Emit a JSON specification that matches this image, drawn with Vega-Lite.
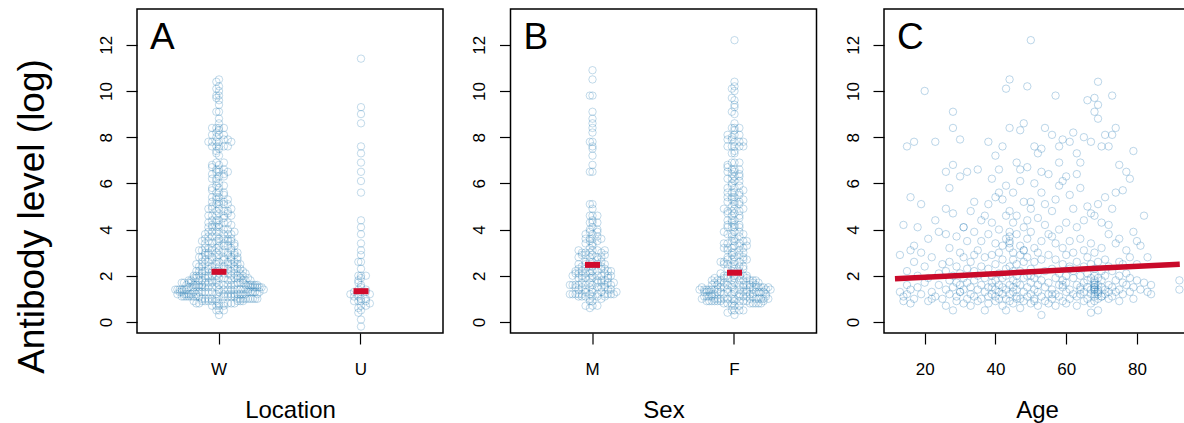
{
"$schema":"https://vega.github.io/schema/vega-lite/v6.json",
"padding":{"left":12,"top":8,"right":0,"bottom":0},
"autosize":{"type":"pad"},
"bounds":"flush",
"spacing":67.5,
"config":{
 "font":"Liberation Sans",
 "view":{"stroke":"black","strokeWidth":1.5},
 "axis":{"domain":false,"grid":false,"tickColor":"black","tickWidth":1.2,"tickSize":11,"labelFont":"Liberation Sans","labelFontSize":17,"labelColor":"black","titleFont":"Liberation Sans","titleFontSize":24,"titleFontWeight":"normal","titleColor":"black"},
 "axisY":{"labelAngle":270,"labelAlign":"center","labelBaseline":"alphabetic","labelPadding":15},
 "axisX":{"labelAngle":0,"labelAlign":"center","labelBaseline":"top","labelPadding":17,"titleY":84,"titleBaseline":"alphabetic"},
 "title":{"font":"Liberation Sans","fontSize":37,"fontWeight":"normal","color":"black","anchor":"start","frame":"group","baseline":"top","offset":-11,"dx":13,"dy":37}
},
"datasets":{
"obs":[
{"loc":"W","sex":"F","age":13,"ab":1.3},{"loc":"W","sex":"M","age":13,"ab":2.9},{"loc":"W","sex":"M","age":14,"ab":1.1},{"loc":"W","sex":"F","age":14,"ab":4.2},{"loc":"U","sex":"F","age":14,"ab":0.9},
{"loc":"W","sex":"M","age":15,"ab":1.6},{"loc":"W","sex":"F","age":15,"ab":7.6},{"loc":"W","sex":"M","age":15,"ab":2.2},{"loc":"W","sex":"F","age":15,"ab":1.2},{"loc":"W","sex":"M","age":16,"ab":3.1},
{"loc":"W","sex":"M","age":16,"ab":1.4},{"loc":"W","sex":"F","age":16,"ab":5.4},{"loc":"W","sex":"F","age":16,"ab":0.8},{"loc":"W","sex":"M","age":17,"ab":7.8},{"loc":"W","sex":"M","age":17,"ab":2.6},
{"loc":"W","sex":"F","age":17,"ab":1.0},{"loc":"W","sex":"F","age":17,"ab":3.3},{"loc":"W","sex":"M","age":18,"ab":1.5},{"loc":"U","sex":"F","age":18,"ab":2.0},{"loc":"W","sex":"F","age":18,"ab":4.1},
{"loc":"W","sex":"F","age":19,"ab":1.2},{"loc":"W","sex":"M","age":19,"ab":3.0},{"loc":"W","sex":"M","age":19,"ab":5.1},{"loc":"W","sex":"F","age":20,"ab":10.0},{"loc":"W","sex":"F","age":20,"ab":1.7},
{"loc":"W","sex":"M","age":20,"ab":2.4},{"loc":"W","sex":"F","age":21,"ab":0.9},{"loc":"W","sex":"F","age":21,"ab":1.9},{"loc":"W","sex":"F","age":21,"ab":3.6},{"loc":"W","sex":"M","age":22,"ab":1.3},
{"loc":"W","sex":"F","age":22,"ab":2.8},{"loc":"U","sex":"F","age":22,"ab":1.0},{"loc":"W","sex":"F","age":23,"ab":7.8},{"loc":"W","sex":"F","age":23,"ab":1.1},{"loc":"W","sex":"M","age":23,"ab":4.4},
{"loc":"W","sex":"F","age":24,"ab":2.1},{"loc":"W","sex":"F","age":24,"ab":1.6},{"loc":"W","sex":"F","age":24,"ab":3.9},{"loc":"W","sex":"M","age":25,"ab":1.0},{"loc":"W","sex":"F","age":25,"ab":2.5},
{"loc":"W","sex":"F","age":26,"ab":1.4},{"loc":"W","sex":"M","age":26,"ab":2.2},{"loc":"W","sex":"M","age":26,"ab":0.7},{"loc":"W","sex":"F","age":26,"ab":4.9},{"loc":"W","sex":"F","age":26,"ab":6.5},
{"loc":"U","sex":"F","age":26,"ab":3.8},{"loc":"W","sex":"F","age":27,"ab":1.8},{"loc":"W","sex":"M","age":27,"ab":1.2},{"loc":"W","sex":"F","age":27,"ab":3.2},{"loc":"W","sex":"F","age":27,"ab":5.8},
{"loc":"U","sex":"F","age":27,"ab":2.6},{"loc":"W","sex":"F","age":28,"ab":9.1},{"loc":"W","sex":"M","age":28,"ab":8.4},{"loc":"W","sex":"F","age":28,"ab":1.5},{"loc":"W","sex":"F","age":28,"ab":0.5},
{"loc":"W","sex":"M","age":28,"ab":2.0},{"loc":"W","sex":"F","age":28,"ab":4.7},{"loc":"W","sex":"M","age":28,"ab":6.8},{"loc":"W","sex":"M","age":29,"ab":1.1},{"loc":"W","sex":"M","age":29,"ab":2.4},
{"loc":"W","sex":"F","age":29,"ab":3.7},{"loc":"W","sex":"M","age":29,"ab":1.7},{"loc":"U","sex":"M","age":29,"ab":0.9},{"loc":"W","sex":"F","age":30,"ab":7.9},{"loc":"W","sex":"F","age":30,"ab":6.3},
{"loc":"W","sex":"F","age":30,"ab":1.3},{"loc":"W","sex":"M","age":30,"ab":2.1},{"loc":"W","sex":"F","age":30,"ab":3.0},{"loc":"W","sex":"F","age":30,"ab":1.6},{"loc":"U","sex":"F","age":30,"ab":1.3},
{"loc":"W","sex":"F","age":31,"ab":0.8},{"loc":"W","sex":"M","age":31,"ab":2.8},{"loc":"W","sex":"F","age":31,"ab":4.1},{"loc":"W","sex":"M","age":31,"ab":1.9},{"loc":"W","sex":"F","age":31,"ab":1.4},
{"loc":"U","sex":"M","age":31,"ab":4.1},{"loc":"W","sex":"M","age":32,"ab":6.5},{"loc":"W","sex":"F","age":32,"ab":2.3},{"loc":"W","sex":"F","age":32,"ab":1.0},{"loc":"W","sex":"F","age":32,"ab":3.5},
{"loc":"W","sex":"M","age":32,"ab":1.7},{"loc":"W","sex":"M","age":33,"ab":1.2},{"loc":"W","sex":"M","age":33,"ab":2.6},{"loc":"W","sex":"F","age":33,"ab":4.8},{"loc":"U","sex":"F","age":33,"ab":0.7},
{"loc":"W","sex":"M","age":33,"ab":1.5},{"loc":"W","sex":"F","age":34,"ab":3.9},{"loc":"W","sex":"F","age":34,"ab":1.8},{"loc":"W","sex":"M","age":34,"ab":2.2},{"loc":"W","sex":"F","age":34,"ab":5.2},
{"loc":"W","sex":"F","age":34,"ab":1.1},{"loc":"U","sex":"F","age":34,"ab":2.9},{"loc":"W","sex":"F","age":35,"ab":1.4},{"loc":"W","sex":"M","age":35,"ab":3.1},{"loc":"W","sex":"M","age":35,"ab":2.0},
{"loc":"W","sex":"F","age":35,"ab":0.9},{"loc":"W","sex":"F","age":35,"ab":6.6},{"loc":"W","sex":"F","age":36,"ab":3.5},{"loc":"W","sex":"M","age":36,"ab":1.6},{"loc":"W","sex":"F","age":36,"ab":2.4},
{"loc":"W","sex":"F","age":36,"ab":1.0},{"loc":"U","sex":"F","age":36,"ab":4.4},{"loc":"W","sex":"F","age":37,"ab":4.6},{"loc":"W","sex":"M","age":37,"ab":1.3},{"loc":"W","sex":"M","age":37,"ab":2.8},
{"loc":"W","sex":"F","age":37,"ab":0.5},{"loc":"U","sex":"F","age":37,"ab":1.9},
{"loc":"W","sex":"F","age":38,"ab":7.8},{"loc":"W","sex":"M","age":38,"ab":5.1},{"loc":"W","sex":"F","age":38,"ab":1.5},{"loc":"W","sex":"M","age":38,"ab":2.3},{"loc":"W","sex":"M","age":38,"ab":3.8},
{"loc":"W","sex":"M","age":38,"ab":1.1},{"loc":"W","sex":"F","age":38,"ab":0.8},{"loc":"W","sex":"M","age":39,"ab":1.7},{"loc":"W","sex":"F","age":39,"ab":2.9},{"loc":"W","sex":"M","age":39,"ab":4.3},
{"loc":"W","sex":"F","age":39,"ab":1.2},{"loc":"W","sex":"F","age":39,"ab":6.2},{"loc":"U","sex":"F","age":39,"ab":2.0},{"loc":"U","sex":"F","age":39,"ab":1.5},{"loc":"W","sex":"F","age":40,"ab":1.4},
{"loc":"W","sex":"M","age":40,"ab":2.5},{"loc":"W","sex":"M","age":40,"ab":3.4},{"loc":"W","sex":"F","age":40,"ab":0.9},{"loc":"W","sex":"F","age":40,"ab":5.4},{"loc":"W","sex":"F","age":40,"ab":1.8},
{"loc":"W","sex":"M","age":40,"ab":7.2},{"loc":"U","sex":"F","age":40,"ab":1.1},{"loc":"W","sex":"M","age":41,"ab":2.1},{"loc":"W","sex":"F","age":41,"ab":1.6},{"loc":"W","sex":"M","age":41,"ab":4.0},
{"loc":"W","sex":"M","age":41,"ab":1.0},{"loc":"W","sex":"F","age":41,"ab":3.0},{"loc":"W","sex":"F","age":41,"ab":6.6},{"loc":"W","sex":"M","age":41,"ab":1.3},{"loc":"U","sex":"F","age":41,"ab":5.6},
{"loc":"W","sex":"F","age":42,"ab":7.6},{"loc":"W","sex":"F","age":42,"ab":2.7},{"loc":"W","sex":"F","age":42,"ab":1.5},{"loc":"W","sex":"M","age":42,"ab":1.9},{"loc":"W","sex":"F","age":42,"ab":5.3},
{"loc":"W","sex":"F","age":42,"ab":0.7},{"loc":"W","sex":"F","age":42,"ab":3.3},{"loc":"U","sex":"M","age":42,"ab":1.2},{"loc":"W","sex":"F","age":43,"ab":10.1},{"loc":"W","sex":"M","age":43,"ab":2.3},
{"loc":"W","sex":"M","age":43,"ab":1.4},{"loc":"W","sex":"F","age":43,"ab":4.6},{"loc":"W","sex":"M","age":43,"ab":3.6},{"loc":"W","sex":"F","age":43,"ab":1.0},{"loc":"W","sex":"M","age":43,"ab":2.0},
{"loc":"W","sex":"F","age":43,"ab":5.9},{"loc":"U","sex":"F","age":43,"ab":0.5},{"loc":"W","sex":"M","age":44,"ab":10.5},{"loc":"W","sex":"F","age":44,"ab":8.4},{"loc":"W","sex":"F","age":44,"ab":3.4},
{"loc":"W","sex":"F","age":44,"ab":3.7},{"loc":"W","sex":"M","age":44,"ab":3.9},{"loc":"W","sex":"F","age":44,"ab":3.2},{"loc":"W","sex":"M","age":44,"ab":3.5},{"loc":"W","sex":"F","age":44,"ab":1.6},
{"loc":"W","sex":"F","age":44,"ab":2.4},{"loc":"W","sex":"M","age":44,"ab":1.2},{"loc":"W","sex":"F","age":44,"ab":4.8},{"loc":"U","sex":"F","age":44,"ab":0.9},{"loc":"W","sex":"F","age":45,"ab":2.2},
{"loc":"W","sex":"F","age":45,"ab":1.5},{"loc":"W","sex":"M","age":45,"ab":3.0},{"loc":"W","sex":"F","age":45,"ab":5.6},{"loc":"W","sex":"M","age":45,"ab":1.8},{"loc":"W","sex":"F","age":45,"ab":0.8},
{"loc":"W","sex":"F","age":45,"ab":4.3},{"loc":"W","sex":"M","age":45,"ab":2.7},{"loc":"U","sex":"F","age":45,"ab":1.3},{"loc":"W","sex":"F","age":46,"ab":1.7},{"loc":"W","sex":"F","age":46,"ab":6.9},
{"loc":"W","sex":"M","age":46,"ab":2.5},{"loc":"W","sex":"M","age":46,"ab":1.1},{"loc":"W","sex":"F","age":46,"ab":3.8},{"loc":"W","sex":"F","age":46,"ab":2.0},{"loc":"W","sex":"M","age":46,"ab":4.6},
{"loc":"W","sex":"F","age":46,"ab":1.4},{"loc":"U","sex":"F","age":46,"ab":1.0},{"loc":"W","sex":"F","age":47,"ab":8.3},{"loc":"W","sex":"M","age":47,"ab":2.9},{"loc":"W","sex":"F","age":47,"ab":1.6},
{"loc":"W","sex":"M","age":47,"ab":3.3},{"loc":"W","sex":"F","age":47,"ab":1.0},{"loc":"W","sex":"F","age":47,"ab":6.6},{"loc":"W","sex":"M","age":47,"ab":2.2},{"loc":"U","sex":"M","age":47,"ab":0.6},
{"loc":"U","sex":"F","age":47,"ab":6.1},{"loc":"W","sex":"M","age":48,"ab":8.6},{"loc":"W","sex":"F","age":48,"ab":1.9},{"loc":"W","sex":"F","age":48,"ab":4.1},{"loc":"W","sex":"F","age":48,"ab":1.3},
{"loc":"W","sex":"M","age":48,"ab":2.6},{"loc":"W","sex":"F","age":48,"ab":5.2},{"loc":"W","sex":"F","age":48,"ab":0.9},{"loc":"W","sex":"F","age":48,"ab":3.1},{"loc":"U","sex":"F","age":48,"ab":3.1},
{"loc":"W","sex":"F","age":49,"ab":10.2},{"loc":"W","sex":"M","age":49,"ab":2.0},{"loc":"W","sex":"M","age":49,"ab":1.5},{"loc":"W","sex":"M","age":49,"ab":3.6},{"loc":"W","sex":"F","age":49,"ab":6.7},
{"loc":"W","sex":"F","age":49,"ab":1.1},{"loc":"W","sex":"M","age":49,"ab":2.8},{"loc":"W","sex":"F","age":49,"ab":4.4},{"loc":null,"sex":"F","age":50,"ab":12.2},{"loc":"W","sex":"F","age":50,"ab":5.2},
{"loc":"W","sex":"F","age":50,"ab":1.7},{"loc":"W","sex":"M","age":50,"ab":2.3},{"loc":"W","sex":"M","age":50,"ab":3.9},{"loc":"W","sex":"F","age":50,"ab":1.2},{"loc":"W","sex":"F","age":50,"ab":0.8},
{"loc":"W","sex":"M","age":50,"ab":4.9},{"loc":"U","sex":"F","age":50,"ab":2.0},{"loc":"W","sex":"F","age":51,"ab":2.6},{"loc":"W","sex":"F","age":51,"ab":1.4},{"loc":"W","sex":"M","age":51,"ab":7.6},
{"loc":"W","sex":"F","age":51,"ab":3.2},{"loc":"W","sex":"M","age":51,"ab":1.9},{"loc":"W","sex":"F","age":51,"ab":6.0},{"loc":"W","sex":"F","age":51,"ab":1.0},{"loc":"U","sex":"M","age":51,"ab":0.9},
{"loc":"W","sex":"F","age":52,"ab":7.3},{"loc":"W","sex":"M","age":52,"ab":2.1},{"loc":"W","sex":"F","age":52,"ab":1.6},{"loc":"W","sex":"F","age":52,"ab":4.5},{"loc":"W","sex":"F","age":52,"ab":0.7},
{"loc":"W","sex":"M","age":52,"ab":3.0},{"loc":"U","sex":"F","age":52,"ab":1.3},{"loc":"W","sex":"M","age":53,"ab":7.5},{"loc":"W","sex":"M","age":53,"ab":1.8},{"loc":"W","sex":"F","age":53,"ab":2.7},
{"loc":"W","sex":"F","age":53,"ab":5.6},{"loc":"W","sex":"M","age":53,"ab":1.1},{"loc":"W","sex":"F","age":53,"ab":0.3},{"loc":"W","sex":"M","age":53,"ab":3.5},{"loc":"U","sex":"M","age":53,"ab":6.5},
{"loc":"W","sex":"F","age":54,"ab":8.4},{"loc":"W","sex":"F","age":54,"ab":2.2},{"loc":"W","sex":"M","age":54,"ab":1.5},{"loc":"W","sex":"F","age":54,"ab":4.2},{"loc":"W","sex":"F","age":54,"ab":0.9},
{"loc":"W","sex":"F","age":54,"ab":5.1},{"loc":"W","sex":"M","age":55,"ab":1.7},{"loc":"W","sex":"M","age":55,"ab":2.9},{"loc":"W","sex":"F","age":55,"ab":1.2},{"loc":"W","sex":"M","age":55,"ab":3.8},
{"loc":"W","sex":"F","age":55,"ab":6.4},{"loc":"U","sex":"F","age":55,"ab":0.8},
{"loc":"W","sex":"F","age":56,"ab":8.1},{"loc":"W","sex":"M","age":56,"ab":3.7},{"loc":"W","sex":"F","age":56,"ab":1.4},{"loc":"W","sex":"F","age":56,"ab":2.3},{"loc":"W","sex":"F","age":56,"ab":1.0},
{"loc":"W","sex":"F","age":56,"ab":4.8},{"loc":"U","sex":"F","age":56,"ab":1.2},{"loc":"W","sex":"M","age":57,"ab":9.8},{"loc":"W","sex":"F","age":57,"ab":5.3},{"loc":"W","sex":"M","age":57,"ab":1.9},
{"loc":"W","sex":"M","age":57,"ab":1.2},{"loc":"W","sex":"F","age":57,"ab":2.7},{"loc":"W","sex":"M","age":57,"ab":0.7},{"loc":"U","sex":"F","age":57,"ab":3.4},{"loc":"W","sex":"F","age":58,"ab":7.6},
{"loc":"W","sex":"F","age":58,"ab":1.6},{"loc":"W","sex":"M","age":58,"ab":2.1},{"loc":"W","sex":"M","age":58,"ab":4.0},{"loc":"W","sex":"F","age":58,"ab":1.1},{"loc":"W","sex":"F","age":58,"ab":5.9},
{"loc":"U","sex":"F","age":58,"ab":6.9},{"loc":"W","sex":"F","age":59,"ab":7.9},{"loc":"W","sex":"M","age":59,"ab":1.5},{"loc":"W","sex":"F","age":59,"ab":2.5},{"loc":"W","sex":"F","age":59,"ab":6.1},
{"loc":"W","sex":"M","age":59,"ab":1.8},{"loc":"W","sex":"F","age":59,"ab":0.9},{"loc":"W","sex":"M","age":59,"ab":3.2},{"loc":"U","sex":"M","age":59,"ab":1.6},{"loc":"W","sex":"F","age":60,"ab":6.3},
{"loc":"W","sex":"F","age":60,"ab":1.3},{"loc":"W","sex":"F","age":60,"ab":2.0},{"loc":"W","sex":"M","age":60,"ab":4.3},{"loc":"U","sex":"F","age":60,"ab":1.7},{"loc":"W","sex":"M","age":60,"ab":2.9},
{"loc":"W","sex":"F","age":60,"ab":0.8},{"loc":"W","sex":"F","age":61,"ab":7.8},{"loc":"W","sex":"M","age":61,"ab":1.4},{"loc":"W","sex":"M","age":61,"ab":2.4},{"loc":"W","sex":"F","age":61,"ab":5.5},
{"loc":"W","sex":"F","age":61,"ab":1.0},{"loc":"W","sex":"F","age":61,"ab":3.5},{"loc":"U","sex":"M","age":61,"ab":2.3},{"loc":"W","sex":"M","age":62,"ab":8.2},{"loc":"W","sex":"F","age":62,"ab":1.9},
{"loc":"W","sex":"M","age":62,"ab":1.2},{"loc":"W","sex":"M","age":62,"ab":3.0},{"loc":"W","sex":"F","age":62,"ab":4.9},{"loc":"W","sex":"M","age":62,"ab":2.2},{"loc":"W","sex":"F","age":63,"ab":6.4},
{"loc":"W","sex":"M","age":63,"ab":1.6},{"loc":"W","sex":"M","age":63,"ab":2.6},{"loc":"W","sex":"F","age":63,"ab":1.1},{"loc":"W","sex":"F","age":63,"ab":4.1},{"loc":"U","sex":"M","age":63,"ab":0.7},
{"loc":"U","sex":"F","age":63,"ab":7.3},{"loc":"W","sex":"F","age":64,"ab":6.9},{"loc":"W","sex":"F","age":64,"ab":1.5},{"loc":"W","sex":"M","age":64,"ab":3.6},{"loc":"W","sex":"M","age":64,"ab":2.0},
{"loc":"W","sex":"F","age":64,"ab":1.2},{"loc":"W","sex":"F","age":64,"ab":5.8},{"loc":"U","sex":"F","age":64,"ab":1.4},
{"loc":"W","sex":"F","age":65,"ab":8.0},{"loc":"W","sex":"M","age":65,"ab":1.7},{"loc":"W","sex":"M","age":65,"ab":2.4},{"loc":"W","sex":"F","age":65,"ab":1.3},{"loc":"W","sex":"F","age":65,"ab":4.4},
{"loc":"W","sex":"F","age":65,"ab":0.9},{"loc":"W","sex":"M","age":65,"ab":3.1},{"loc":"W","sex":"F","age":66,"ab":9.6},{"loc":"W","sex":"F","age":66,"ab":1.5},{"loc":"W","sex":"M","age":66,"ab":2.1},
{"loc":"W","sex":"F","age":66,"ab":1.0},{"loc":"W","sex":"F","age":66,"ab":5.0},{"loc":"W","sex":"M","age":66,"ab":2.8},{"loc":"U","sex":"F","age":66,"ab":1.8},{"loc":"W","sex":"M","age":67,"ab":7.8},
{"loc":"W","sex":"F","age":67,"ab":1.4},{"loc":"W","sex":"M","age":67,"ab":1.9},{"loc":"W","sex":"M","age":67,"ab":1.2},{"loc":"W","sex":"F","age":67,"ab":3.4},{"loc":"W","sex":"M","age":67,"ab":2.5},
{"loc":"W","sex":"F","age":67,"ab":0.8},{"loc":"W","sex":"F","age":67,"ab":4.7},{"loc":"U","sex":"F","age":67,"ab":0.4},{"loc":"W","sex":"F","age":68,"ab":9.7},{"loc":"W","sex":"M","age":68,"ab":9.1},
{"loc":"W","sex":"F","age":68,"ab":1.3},{"loc":"W","sex":"F","age":68,"ab":1.5},{"loc":"W","sex":"M","age":68,"ab":1.6},{"loc":"W","sex":"F","age":68,"ab":1.4},{"loc":"W","sex":"F","age":68,"ab":1.8},
{"loc":"W","sex":"F","age":68,"ab":1.1},{"loc":"W","sex":"F","age":68,"ab":1.7},{"loc":"W","sex":"M","age":68,"ab":1.2},{"loc":"W","sex":"F","age":68,"ab":2.0},{"loc":"W","sex":"F","age":68,"ab":1.5},
{"loc":"W","sex":"F","age":68,"ab":0.9},{"loc":"W","sex":"F","age":68,"ab":2.3},{"loc":"W","sex":"M","age":68,"ab":4.6},{"loc":"U","sex":"F","age":68,"ab":1.4},{"loc":"W","sex":"F","age":68,"ab":1.6},
{"loc":"W","sex":"F","age":68,"ab":3.0},{"loc":"W","sex":"F","age":69,"ab":10.4},{"loc":"W","sex":"F","age":69,"ab":9.4},{"loc":"W","sex":"M","age":69,"ab":8.8},{"loc":"W","sex":"F","age":69,"ab":1.3},
{"loc":"W","sex":"M","age":69,"ab":1.6},{"loc":"W","sex":"M","age":69,"ab":1.9},{"loc":"W","sex":"F","age":69,"ab":1.0},{"loc":"W","sex":"F","age":69,"ab":2.6},{"loc":"W","sex":"F","age":69,"ab":0.5},
{"loc":"W","sex":"F","age":69,"ab":5.1},{"loc":"W","sex":"F","age":69,"ab":1.4},{"loc":"U","sex":"M","age":69,"ab":1.2},{"loc":"W","sex":"F","age":70,"ab":1.5},{"loc":"W","sex":"M","age":70,"ab":2.2},
{"loc":"W","sex":"F","age":70,"ab":1.1},{"loc":"W","sex":"F","age":70,"ab":3.2},{"loc":"W","sex":"F","age":70,"ab":7.6},{"loc":"W","sex":"F","age":70,"ab":1.8},{"loc":"W","sex":"M","age":70,"ab":4.3},
{"loc":"U","sex":"F","age":70,"ab":1.1},{"loc":"W","sex":"F","age":71,"ab":8.1},{"loc":"W","sex":"M","age":71,"ab":1.4},{"loc":"W","sex":"M","age":71,"ab":2.0},{"loc":"W","sex":"M","age":71,"ab":1.2},
{"loc":"W","sex":"F","age":71,"ab":5.4},{"loc":"W","sex":"F","age":71,"ab":2.7},{"loc":"W","sex":"F","age":72,"ab":4.2},{"loc":"W","sex":"M","age":72,"ab":1.6},{"loc":"W","sex":"F","age":72,"ab":1.0},
{"loc":"W","sex":"F","age":72,"ab":2.4},{"loc":"W","sex":"F","age":72,"ab":3.8},{"loc":"W","sex":"F","age":72,"ab":1.3},{"loc":"U","sex":"F","age":72,"ab":7.6},
{"loc":"W","sex":"M","age":73,"ab":9.8},{"loc":"W","sex":"F","age":73,"ab":8.1},{"loc":"W","sex":"F","age":73,"ab":1.5},{"loc":"W","sex":"M","age":73,"ab":2.2},{"loc":"W","sex":"F","age":73,"ab":4.9},
{"loc":"W","sex":"M","age":73,"ab":1.1},{"loc":"W","sex":"F","age":74,"ab":8.4},{"loc":"W","sex":"F","age":74,"ab":1.8},{"loc":"W","sex":"M","age":74,"ab":3.4},{"loc":"W","sex":"F","age":74,"ab":1.3},
{"loc":"W","sex":"F","age":74,"ab":5.6},{"loc":"W","sex":"M","age":75,"ab":2.0},{"loc":"W","sex":"F","age":75,"ab":1.4},{"loc":"W","sex":"M","age":75,"ab":3.6},{"loc":"W","sex":"F","age":75,"ab":6.8},
{"loc":"W","sex":"F","age":75,"ab":0.9},{"loc":"U","sex":"F","age":75,"ab":2.6},{"loc":"W","sex":"F","age":76,"ab":5.7},{"loc":"W","sex":"M","age":76,"ab":1.7},{"loc":"W","sex":"F","age":76,"ab":2.5},
{"loc":"W","sex":"M","age":76,"ab":1.2},{"loc":"W","sex":"F","age":77,"ab":6.5},{"loc":"W","sex":"F","age":77,"ab":1.6},{"loc":"W","sex":"M","age":77,"ab":3.1},{"loc":"W","sex":"F","age":77,"ab":2.1},
{"loc":"W","sex":"F","age":78,"ab":6.2},{"loc":"W","sex":"M","age":78,"ab":1.3},{"loc":"W","sex":"F","age":78,"ab":2.8},{"loc":"W","sex":"F","age":78,"ab":1.9},{"loc":"W","sex":"F","age":79,"ab":7.4},
{"loc":"W","sex":"F","age":79,"ab":3.9},{"loc":"W","sex":"M","age":79,"ab":1.5},{"loc":"W","sex":"F","age":79,"ab":1.0},{"loc":"W","sex":"F","age":80,"ab":3.5},{"loc":"W","sex":"F","age":80,"ab":1.8},
{"loc":"W","sex":"M","age":80,"ab":2.5},{"loc":"W","sex":"M","age":81,"ab":1.4},{"loc":"W","sex":"F","age":81,"ab":3.3},{"loc":"W","sex":"F","age":82,"ab":1.7},{"loc":"W","sex":"M","age":82,"ab":4.6},
{"loc":"W","sex":"F","age":83,"ab":1.3},{"loc":"W","sex":"F","age":83,"ab":2.8},{"loc":"W","sex":"M","age":84,"ab":1.6},{"loc":"W","sex":"F","age":84,"ab":1.2},{"loc":"W","sex":"F","age":92,"ab":1.4},
{"loc":"W","sex":"F","age":92,"ab":1.8},
{"loc":"U","sex":null,"age":null,"ab":11.4},{"loc":"U","sex":"F","age":null,"ab":9.3},{"loc":"U","sex":"F","age":null,"ab":9.0},{"loc":"U","sex":"F","age":null,"ab":8.6},{"loc":"U","sex":null,"age":null,"ab":-0.2},
{"loc":"U","sex":null,"age":null,"ab":0.1},{"loc":null,"sex":"M","age":null,"ab":10.9}
],
"meanLoc":[{"loc":"W","m":2.17},{"loc":"U","m":1.33}],
"meanSex":[{"sex":"M","m":2.47},{"sex":"F","m":2.13}],
"fit":[{"age":11.6,"fit":1.87,"lo":1.77,"hi":1.97},{"age":30,"fit":2.01,"lo":1.95,"hi":2.07},{"age":50,"fit":2.17,"lo":2.13,"hi":2.21},{"age":70,"fit":2.33,"lo":2.27,"hi":2.39},{"age":92.1,"fit":2.5,"lo":2.39,"hi":2.61}]
},
"hconcat":[
{
 "width":306,"height":324,
 "title":"A",
 "resolve":{"scale":{"xOffset":"independent"}},
 "layer":[
  {
   "data":{"name":"obs"},
   "transform":[
    {"filter":"datum.loc != null"},
    {"bin":{"step":0.2,"anchor":0},"field":"ab","as":"bb"},
    {"window":[{"op":"row_number","as":"rn"}],"groupby":["loc","bb"],"sort":[{"field":"age","order":"ascending"}]},
    {"filter":"datum.rn % 2 == 1"}
   ],
   "mark":{"type":"point","filled":false,"size":55,"strokeWidth":1,"color":"#1f78b4","strokeOpacity":0.38},
   "encoding":{
    "x":{"field":"loc","type":"nominal","scale":{"domain":["W","U"],"paddingInner":0,"paddingOuter":0.0775},"axis":{"title":"Location"}},
    "xOffset":{"field":"rn","type":"quantitative","scale":{"type":"pow","exponent":0.7,"zero":false,"domain":[1,101],"range":[71,174]}},
    "y":{"field":"ab","type":"quantitative","scale":{"domain":[-0.48,13.55],"nice":false,"zero":false},"axis":{"values":[0,2,4,6,8,10,12],"title":"Antibody level (log)","titleFontSize":37,"titleAngle":270,"titleAlign":"center","titleBaseline":"alphabetic","titleX":-93.5,"titleY":207}}
   }
  },
  {
   "data":{"name":"obs"},
   "transform":[
    {"filter":"datum.loc != null"},
    {"bin":{"step":0.2,"anchor":0},"field":"ab","as":"bb"},
    {"window":[{"op":"row_number","as":"rn"}],"groupby":["loc","bb"],"sort":[{"field":"age","order":"ascending"}]},
    {"filter":"datum.rn % 2 == 0"}
   ],
   "mark":{"type":"point","filled":false,"size":55,"strokeWidth":1,"color":"#1f78b4","strokeOpacity":0.38},
   "encoding":{
    "x":{"field":"loc","type":"nominal"},
    "xOffset":{"field":"rn","type":"quantitative","scale":{"type":"pow","exponent":0.7,"zero":false,"domain":[1,101],"range":[71,-32]}},
    "y":{"field":"ab","type":"quantitative"}
   }
  },
  {
   "data":{"name":"meanLoc"},
   "mark":{"type":"tick","orient":"horizontal","size":15,"thickness":6,"color":"#d10b2c","opacity":1},
   "encoding":{
    "x":{"field":"loc","type":"nominal"},
    "y":{"field":"m","type":"quantitative"}
   }
  }
 ]
},
{
 "width":306,"height":324,
 "title":"B",
 "resolve":{"scale":{"xOffset":"independent"}},
 "layer":[
  {
   "data":{"name":"obs"},
   "transform":[
    {"filter":"datum.sex != null"},
    {"bin":{"step":0.2,"anchor":0},"field":"ab","as":"bb"},
    {"window":[{"op":"row_number","as":"rn"}],"groupby":["sex","bb"],"sort":[{"field":"age","order":"ascending"}]},
    {"filter":"datum.rn % 2 == 1"}
   ],
   "mark":{"type":"point","filled":false,"size":55,"strokeWidth":1,"color":"#1f78b4","strokeOpacity":0.38},
   "encoding":{
    "x":{"field":"sex","type":"nominal","scale":{"domain":["M","F"],"paddingInner":0,"paddingOuter":0.0775},"axis":{"title":"Sex"}},
    "xOffset":{"field":"rn","type":"quantitative","scale":{"type":"pow","exponent":0.7,"zero":false,"domain":[1,101],"range":[71,174]}},
    "y":{"field":"ab","type":"quantitative","scale":{"domain":[-0.48,13.55],"nice":false,"zero":false},"axis":{"values":[0,2,4,6,8,10,12],"title":null}}
   }
  },
  {
   "data":{"name":"obs"},
   "transform":[
    {"filter":"datum.sex != null"},
    {"bin":{"step":0.2,"anchor":0},"field":"ab","as":"bb"},
    {"window":[{"op":"row_number","as":"rn"}],"groupby":["sex","bb"],"sort":[{"field":"age","order":"ascending"}]},
    {"filter":"datum.rn % 2 == 0"}
   ],
   "mark":{"type":"point","filled":false,"size":55,"strokeWidth":1,"color":"#1f78b4","strokeOpacity":0.38},
   "encoding":{
    "x":{"field":"sex","type":"nominal"},
    "xOffset":{"field":"rn","type":"quantitative","scale":{"type":"pow","exponent":0.7,"zero":false,"domain":[1,101],"range":[71,-32]}},
    "y":{"field":"ab","type":"quantitative"}
   }
  },
  {
   "data":{"name":"meanSex"},
   "mark":{"type":"tick","orient":"horizontal","size":15,"thickness":6,"color":"#d10b2c","opacity":1},
   "encoding":{
    "x":{"field":"sex","type":"nominal"},
    "y":{"field":"m","type":"quantitative"}
   }
  }
 ]
},
{
 "width":306,"height":324,
 "title":"C",
 "layer":[
  {
   "data":{"name":"obs"},
   "transform":[{"filter":"datum.age != null"}],
   "mark":{"type":"point","filled":false,"size":55,"strokeWidth":1,"color":"#1f78b4","strokeOpacity":0.42},
   "encoding":{
    "x":{"field":"age","type":"quantitative","scale":{"domain":[8.5,95],"nice":false,"zero":false},"axis":{"values":[20,40,60,80],"title":"Age"}},
    "y":{"field":"ab","type":"quantitative","scale":{"domain":[-0.48,13.55],"nice":false,"zero":false},"axis":{"values":[0,2,4,6,8,10,12],"title":null}}
   }
  },
  {
   "data":{"name":"fit"},
   "mark":{"type":"area","color":"#f08a9e","opacity":0.45},
   "encoding":{
    "x":{"field":"age","type":"quantitative"},
    "y":{"field":"lo","type":"quantitative"},
    "y2":{"field":"hi"}
   }
  },
  {
   "data":{"name":"fit"},
   "mark":{"type":"line","color":"#c90a2a","strokeWidth":5.5},
   "encoding":{
    "x":{"field":"age","type":"quantitative"},
    "y":{"field":"fit","type":"quantitative"}
   }
  }
 ]
}
]
}
